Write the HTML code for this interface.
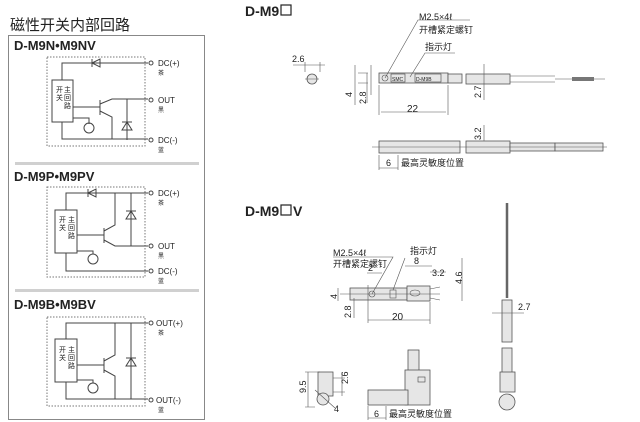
<!DOCTYPE html>
<html><head><meta charset="utf-8"><style>
html,body{margin:0;padding:0;background:#fff;width:640px;height:422px;overflow:hidden}
svg{display:block}
text{font-family:"Liberation Sans","Noto Sans CJK SC",sans-serif;fill:#222}
.b{font-weight:bold}
.l{stroke:#444;stroke-width:1;fill:none}
.t{stroke:#555;stroke-width:.6;fill:none}
.d{stroke:#777;stroke-width:1;fill:none;stroke-dasharray:1.5 1.5}
.g{fill:#e6e6e6;stroke:#555;stroke-width:.8}
</style></head><body>
<svg width="640" height="422" viewBox="0 0 640 422">
<text x="10" y="30" font-size="15">磁性开关内部回路</text>
<rect x="8.5" y="35.5" width="196" height="384" fill="none" stroke="#888"/>
<text x="14" y="50" font-size="13" class="b">D-M9N•M9NV</text>
<rect x="15" y="162" width="184" height="3" fill="#d0d0d0"/>
<text x="14" y="181" font-size="13" class="b">D-M9P•M9PV</text>
<rect x="15" y="289" width="184" height="3" fill="#d0d0d0"/>
<text x="14" y="309" font-size="13" class="b">D-M9B•M9BV</text>

<!-- circuit 1 -->
<rect x="47" y="57" width="98" height="89" class="d"/>
<path class="l" d="M62 80V63H148 M92 59v8 M92 63l8-4v8z M62 122V139H148 M73 107H100 M100 100v15 M100 104l12-5H148 M100 111l12 6v22 M127 99v41 M73 118H89v6"/>
<path class="l" d="M122 122h10 M127 122l-5 8h10z"/>
<circle cx="89" cy="128" r="5" class="l"/>
<rect x="52" y="80" width="21" height="42" fill="#fff" stroke="#444"/>
<text font-size="7"><tspan x="56" y="92">开</tspan><tspan x="56" y="100">关</tspan><tspan x="64" y="92">主</tspan><tspan x="64" y="100">回</tspan><tspan x="64" y="108">路</tspan></text>
<g class="l"><circle cx="151" cy="63" r="2"/><circle cx="151" cy="100" r="2"/><circle cx="151" cy="140" r="2"/></g>
<text font-size="8"><tspan x="158" y="66">DC(+)</tspan><tspan x="158" y="103">OUT</tspan><tspan x="158" y="143">DC(-)</tspan></text>
<text font-size="6"><tspan x="158" y="75">茶</tspan><tspan x="158" y="112">黑</tspan><tspan x="158" y="152">蓝</tspan></text>

<!-- circuit 2 -->
<rect x="47" y="187" width="98" height="90" class="d"/>
<path class="l" d="M66 210V193H148 M88 189v8 M88 193l8-4v8z M66 253V271H148 M77 235H104 M104 228v15 M104 231l11-6V193 M104 240l11 6H148 M131 193v53 M77 251H93v3"/>
<path class="l" d="M126 211h10 M131 211l-5 8h10z"/>
<circle cx="93" cy="259" r="5" class="l"/>
<rect x="55" y="210" width="22" height="43" fill="#fff" stroke="#444"/>
<text font-size="7"><tspan x="59" y="222">开</tspan><tspan x="59" y="230">关</tspan><tspan x="68" y="222">主</tspan><tspan x="68" y="230">回</tspan><tspan x="68" y="238">路</tspan></text>
<g class="l"><circle cx="151" cy="193" r="2"/><circle cx="151" cy="246" r="2"/><circle cx="151" cy="271" r="2"/></g>
<text font-size="8"><tspan x="158" y="196">DC(+)</tspan><tspan x="158" y="249">OUT</tspan><tspan x="158" y="274">DC(-)</tspan></text>
<text font-size="6"><tspan x="158" y="205">茶</tspan><tspan x="158" y="258">黑</tspan><tspan x="158" y="283">蓝</tspan></text>

<!-- circuit 3 -->
<rect x="47" y="317" width="98" height="89" class="d"/>
<path class="l" d="M66 339V323H148 M66 382V399H148 M77 365H104 M104 358v15 M104 361l11-6V323 M104 370l11 6V399 M131 323v76 M77 380H93v3"/>
<path class="l" d="M126 358h10 M131 358l-5 8h10z"/>
<circle cx="93" cy="388" r="5" class="l"/>
<rect x="55" y="339" width="22" height="43" fill="#fff" stroke="#444"/>
<text font-size="7"><tspan x="59" y="352">开</tspan><tspan x="59" y="360">关</tspan><tspan x="68" y="352">主</tspan><tspan x="68" y="360">回</tspan><tspan x="68" y="368">路</tspan></text>
<g class="l"><circle cx="151" cy="323" r="2"/><circle cx="151" cy="400" r="2"/></g>
<text font-size="8"><tspan x="156" y="326">OUT(+)</tspan><tspan x="156" y="403">OUT(-)</tspan></text>
<text font-size="6"><tspan x="158" y="335">茶</tspan><tspan x="158" y="412">蓝</tspan></text>

<!-- D-M9 -->
<text x="245" y="16" font-size="14" class="b">D-M9</text>
<rect x="281" y="5" width="10" height="10" fill="none" stroke="#222" stroke-width="1.2"/>
<circle cx="312" cy="79" r="5" class="g"/>
<path class="t" d="M305 79h14 M305 62v10 M320 62v10 M293 65h32"/>
<text x="292" y="62" font-size="9">2.6</text>
<rect x="379" y="73" width="69" height="10" class="g"/>
<rect x="448" y="74" width="14" height="9" class="g"/>
<rect x="466" y="74" width="44" height="10" class="g"/>
<path class="t" d="M510 76h45M510 82h45M555 79h50"/>
<rect x="572" y="77" width="22" height="4" fill="#777"/>
<circle cx="385" cy="78" r="3" class="t"/>
<rect x="391" y="74" width="14" height="8" fill="none" stroke="#444" stroke-width=".6"/>
<rect x="415" y="74" width="26" height="8" fill="none" stroke="#444" stroke-width=".6"/>
<text x="392" y="81" font-size="5">SMC</text><text x="416" y="81" font-size="5">D-M9B</text>
<path class="t" d="M385 78L418 20H470 M410 77L425 53H455 M367 73v30 M379 85v30 M448 85v30 M381 112h65 M368 73h-10M358 83h10 M355 65v40 M371 65v30 M484 64v36"/>
<text x="419" y="20" font-size="9">M2.5×4ℓ</text>
<text x="419" y="33" font-size="9">开槽紧定螺钉</text>
<text x="425" y="50" font-size="9">指示灯</text>
<text x="407" y="112" font-size="10">22</text>
<text transform="translate(352,97) rotate(-90)" font-size="9">4</text>
<text transform="translate(366,104) rotate(-90)" font-size="9">2.8</text>
<text transform="translate(481,98) rotate(-90)" font-size="9">2.7</text>
<text transform="translate(481,140) rotate(-90)" font-size="9">3.2</text>
<rect x="379" y="141" width="81" height="12" class="g"/>
<rect x="466" y="141" width="44" height="12" class="g"/>
<rect x="510" y="143" width="45" height="8" class="g"/>
<rect x="555" y="143" width="48" height="8" class="g"/>
<path class="t" d="M372 147h235 M379 155v15 M398 155v15 M379 168h19 M484 125v16"/>
<text x="386" y="166" font-size="9">6</text>
<text x="401" y="166" font-size="9">最高灵敏度位置</text>

<!-- D-M9V -->
<text x="245" y="216" font-size="14" class="b">D-M9</text>
<rect x="281" y="205" width="10" height="10" fill="none" stroke="#222" stroke-width="1.2"/>
<text x="293" y="216" font-size="14" class="b">V</text>
<rect x="350" y="288" width="57" height="12" class="g"/>
<rect x="407" y="286" width="23" height="15" class="g"/>
<path class="t" d="M430 289l10-2M430 298l10 2 M340 294h100"/>
<circle cx="372" cy="294" r="3" class="t"/><rect x="390" y="290" width="6" height="8" class="t"/>
<ellipse cx="415" cy="293" rx="5" ry="3" class="t"/>
<path class="t" d="M372 294L393 257H333 M393 290L405 258 M368 285v38 M430 302v22 M368 320h62 M367 273h15 M405 266h27 M430 272h16 M462 258v43 M338 288v13 M354 298v20"/>
<text x="333" y="256" font-size="9">M2.5×4ℓ</text>
<text x="333" y="267" font-size="9">开槽紧定螺钉</text>
<text x="410" y="254" font-size="9">指示灯</text>
<text x="368" y="271" font-size="9">2</text>
<text x="414" y="264" font-size="9">8</text>
<text x="432" y="276" font-size="9">3.2</text>
<text x="392" y="320" font-size="10">20</text>
<text transform="translate(337,299) rotate(-90)" font-size="9">4</text>
<text transform="translate(351,318) rotate(-90)" font-size="9">2.8</text>
<text transform="translate(462,284) rotate(-90)" font-size="9">4.6</text>
<!-- L side -->
<rect x="408" y="350" width="11" height="22" class="g"/>
<rect x="405" y="370" width="25" height="35" class="g"/>
<rect x="368" y="390" width="40" height="15" class="g"/>
<rect x="418" y="377" width="7" height="5" fill="none" stroke="#444" stroke-width=".6"/>
<path class="t" d="M368 406v14 M386 406v14 M368 418h18"/>
<text x="374" y="417" font-size="9">6</text>
<text x="389" y="417" font-size="9">最高灵敏度位置</text>
<!-- small end -->
<rect x="318" y="372" width="15" height="24" class="g"/>
<circle cx="323" cy="399" r="6" class="g"/>
<path class="t" d="M305 372h15 M305 407h10 M308 372v35 M333 378h12 M333 392h12 M342 372v24 M315 390l20 18"/>
<text transform="translate(306,393) rotate(-90)" font-size="9">9.5</text>
<text transform="translate(348,384) rotate(-90)" font-size="9">2.6</text>
<text x="334" y="412" font-size="9">4</text>
<!-- long cable -->
<path d="M507 203v95" stroke="#666" stroke-width="2.5" fill="none"/>
<rect x="502" y="300" width="10" height="42" class="g"/>
<rect x="502" y="348" width="10" height="25" class="g"/>
<rect x="500" y="372" width="15" height="20" class="g"/>
<circle cx="507" cy="402" r="8" class="g"/>
<path class="t" d="M492 313h32"/>
<text x="518" y="310" font-size="9">2.7</text>
</svg>
</body></html>
